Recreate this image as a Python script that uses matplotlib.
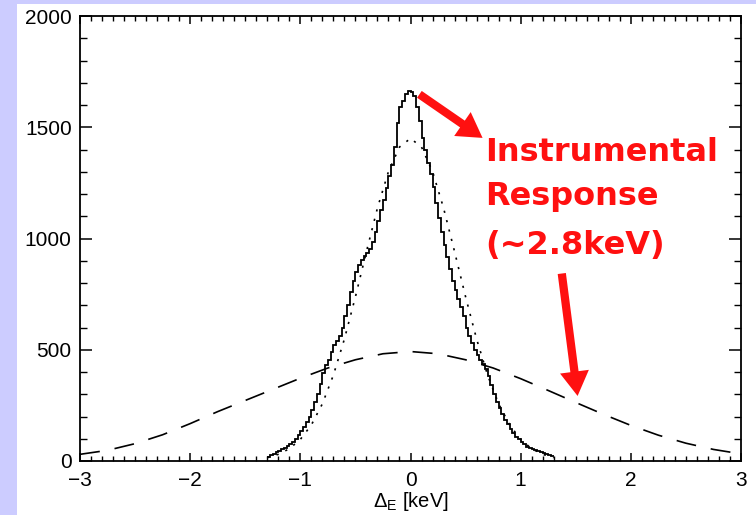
import numpy as np
import matplotlib
matplotlib.use("Agg")
import matplotlib.pyplot as plt
from matplotlib.patches import Rectangle, FancyArrowPatch
from matplotlib.ticker import MultipleLocator

# ---------------- data ----------------
hist_edges_lo = -1.3
hist_bin = 0.025
hist_counts = [
    20, 28, 33, 40, 45, 52, 60, 68, 75, 85, 97, 115, 135, 155, 175, 200,
    230, 265, 300, 345, 395, 430, 455, 490, 520, 540, 560, 600, 650, 700,
    760, 810, 850, 880, 905, 920, 935, 955, 985, 1030, 1080, 1130, 1175,
    1225, 1280, 1330, 1410, 1520, 1590, 1620, 1650, 1665,
    1660, 1640, 1590, 1530, 1450, 1400, 1340, 1290, 1230, 1160, 1090, 1030,
    970, 915, 865, 810, 770, 730, 690, 650, 600, 560, 530, 500, 475, 455,
    435, 415, 380, 340, 300, 265, 240, 210, 185, 165, 145, 125, 110, 98,
    85, 75, 65, 60, 55, 50, 45, 40, 35, 32, 28, 22,
]

dotted_x = [-1.3, -1.2, -1.1, -1.0, -0.9, -0.8, -0.7, -0.6, -0.5, -0.4, -0.3,
            -0.2, -0.1, 0.0, 0.1, 0.2, 0.3, 0.4, 0.5, 0.6, 0.7, 0.8, 0.9,
            1.0, 1.1, 1.2, 1.3]
dotted_y = [15, 30, 55, 97, 162, 257, 386, 548, 738, 941, 1137, 1301, 1411,
            1450, 1411, 1301, 1137, 941, 738, 548, 386, 257, 162, 97, 55, 30, 15]

dashed_x = [-3.0, -2.75, -2.5, -2.25, -2.0, -1.75, -1.5, -1.25, -1.0, -0.75,
            -0.5, -0.25, 0.0, 0.25, 0.5, 0.75, 1.0, 1.25, 1.5, 1.75, 2.0,
            2.25, 2.5, 2.75, 3.0]
dashed_y = [30, 48, 78, 118, 168, 222, 272, 322, 372, 418, 455, 482, 492,
            482, 455, 418, 370, 317, 263, 210, 160, 116, 80, 52, 32]

x_ticks = [-3, -2, -1, 0, 1, 2, 3]
y_ticks = [0, 500, 1000, 1500, 2000]
annot_lines = ["Instrumental", "Response", "(~2.8keV)"]

# ---------------- figure ----------------
plt.rcParams['font.family'] = ['Liberation Sans', 'DejaVu Sans']
plt.rcParams['mathtext.fontset'] = 'custom'
plt.rcParams['mathtext.rm'] = 'Liberation Sans'
plt.rcParams['mathtext.it'] = 'Liberation Sans:italic'

fig = plt.figure(figsize=(7.56, 5.15), dpi=100)
fig.patch.set_facecolor('#ccccff')
fig.patches.append(Rectangle((17 / 756, 0), 1 - 17 / 756, 1 - 4 / 515,
                             transform=fig.transFigure, facecolor='white',
                             edgecolor='none', zorder=-10))

ax = fig.add_axes([80 / 756, (515 - 461) / 515, 661 / 756, (461 - 16) / 515])
ax.set_facecolor('white')

edges = hist_edges_lo + hist_bin * np.arange(len(hist_counts) + 1)
ax.stairs(hist_counts, edges, baseline=None, color='black', lw=1.3)
ax.plot(dotted_x, dotted_y, color='black', lw=1.2, linestyle=(0, (1.3, 4.5)))
ax.plot(dashed_x, dashed_y, color='black', lw=1.2, linestyle=(0, (12, 9)))

ax.set_xlim(-3, 3)
ax.set_ylim(0, 2000)
ax.set_xticks(x_ticks)
ax.set_xticklabels([f"{v}".replace('-', '\u2212') for v in x_ticks])
ax.set_yticks(y_ticks)
ax.xaxis.set_minor_locator(MultipleLocator(0.1))
ax.yaxis.set_minor_locator(MultipleLocator(100))
ax.tick_params(axis='x', which='major', direction='in', length=6, width=1.1,
               top=True, labelsize=15, pad=7)
ax.tick_params(axis='x', which='minor', direction='in', length=3.5, width=1.0,
               top=True)
ax.tick_params(axis='y', which='major', direction='in', length=8.5, width=1.1,
               right=True, labelsize=15, pad=6)
ax.tick_params(axis='y', which='minor', direction='in', length=5, width=1.0,
               right=True)
for s in ax.spines.values():
    s.set_linewidth(1.3)

ax.set_xlabel(r"$\Delta_{\rm E}$ [keV]", fontsize=14.5, labelpad=0)

# annotation text
ys = [1385, 1190, 970]
for line, yy in zip(annot_lines, ys):
    ax.text(0.675, yy, line, color='#ff1010', fontsize=23, fontweight='bold',
            family='DejaVu Sans', va='center', ha='left')

style = "simple,head_length=0.8,head_width=0.95,tail_width=0.27"
a1 = FancyArrowPatch((0.06, 1655), (0.675, 1445), arrowstyle=style,
                     mutation_scale=22, color='#ff1010', lw=0)
a2 = FancyArrowPatch((1.37, 855), (1.52, 280), arrowstyle=style,
                     mutation_scale=22, color='#ff1010', lw=0)
ax.add_patch(a1)
ax.add_patch(a2)

fig.savefig("out.png", dpi=100, facecolor=fig.get_facecolor())
